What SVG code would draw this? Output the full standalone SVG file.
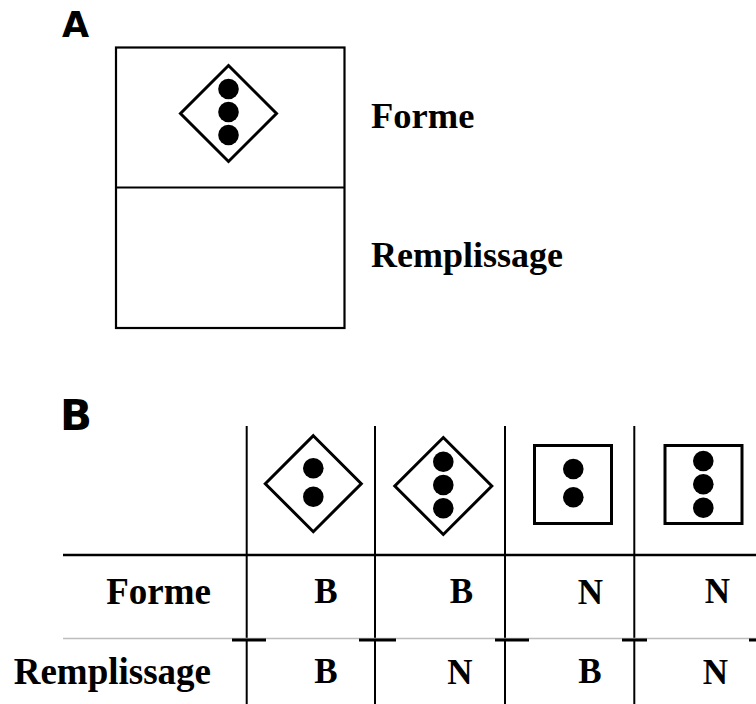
<svg xmlns="http://www.w3.org/2000/svg" width="756" height="704" viewBox="0 0 756 704">
<style>
.lbl{font-family:"Liberation Serif","Times New Roman",serif;font-weight:bold;fill:#000}
.panel{font-family:"DejaVu Sans",sans-serif;font-weight:bold;fill:#000}
.shape{fill:#fff;stroke:#000;stroke-width:3}
.dot{fill:#000}
.line{stroke:#000;stroke-width:2;fill:none}
</style>
<rect width="756" height="704" fill="#fff"/>

<g id="panelA">
  <text class="panel" x="62" y="37" font-size="35">A</text>
  <g id="boxA">
    <rect x="116" y="47.5" width="228.5" height="280.5" fill="#fff" stroke="#000" stroke-width="2.2"/>
    <line x1="116" y1="187.5" x2="344.5" y2="187.5" stroke="#000" stroke-width="2.2"/>
  </g>
  <g id="shapeA">
    <polygon class="shape" points="228.5,65.5 276.5,113.5 228.5,161.5 180.5,113.5"/>
    <circle class="dot" cx="228.5" cy="89" r="10.3"/>
    <circle class="dot" cx="228.5" cy="112" r="10.3"/>
    <circle class="dot" cx="228.5" cy="135" r="10.3"/>
  </g>
  <text class="lbl" x="371" y="128" font-size="36.5">Forme</text>
  <text class="lbl" x="371" y="267" font-size="36">Remplissage</text>
</g>

<g id="panelB">
  <text class="panel" x="60" y="430" font-size="42">B</text>
  <g id="connectors">
    <line class="line" x1="246.7" y1="426" x2="246.7" y2="704"/>
    <line class="line" x1="375" y1="426" x2="375" y2="704"/>
    <line class="line" x1="505" y1="426" x2="505" y2="704"/>
    <line class="line" x1="634.3" y1="426" x2="634.3" y2="704"/>
    <line x1="63" y1="555" x2="756" y2="555" stroke="#000" stroke-width="2.6"/>
    <line x1="63" y1="638.5" x2="756" y2="638.5" stroke="#bdbdbd" stroke-width="1.5"/>
    <g stroke="#000" stroke-width="3">
      <line x1="232" y1="640" x2="266" y2="640"/>
      <line x1="359" y1="640" x2="396" y2="640"/>
      <line x1="495" y1="640" x2="529" y2="640"/>
      <line x1="622" y1="640" x2="647" y2="640"/>
      <line x1="749" y1="640" x2="756" y2="640"/>
    </g>
  </g>
  <g id="col1">
    <polygon class="shape" points="313.3,435.7 361.3,483.7 313.3,531.7 265.3,483.7"/>
    <circle class="dot" cx="313.3" cy="468.3" r="10.3"/>
    <circle class="dot" cx="313.3" cy="496.7" r="10.3"/>
  </g>
  <g id="col2">
    <polygon class="shape" points="443.3,437.5 491.8,486 443.3,534.5 394.8,486"/>
    <circle class="dot" cx="443.3" cy="461.7" r="10.3"/>
    <circle class="dot" cx="443.3" cy="485" r="10.3"/>
    <circle class="dot" cx="443.3" cy="508.3" r="10.3"/>
  </g>
  <g id="col3">
    <rect class="shape" x="534.5" y="445.5" width="77" height="78" stroke-width="3.5"/>
    <circle class="dot" cx="573.3" cy="469" r="10.3"/>
    <circle class="dot" cx="573.3" cy="497.3" r="10.3"/>
  </g>
  <g id="col4">
    <rect class="shape" x="665" y="445.5" width="77" height="78" stroke-width="3.5"/>
    <circle class="dot" cx="703.3" cy="461" r="10.3"/>
    <circle class="dot" cx="703.3" cy="484.3" r="10.3"/>
    <circle class="dot" cx="703.3" cy="507.7" r="10.3"/>
  </g>
  <g id="rowForme">
    <text class="lbl" x="211" y="604" font-size="37" text-anchor="end">Forme</text>
    <text class="lbl" x="326" y="603" font-size="35" text-anchor="middle">B</text>
    <text class="lbl" x="461.5" y="603" font-size="35" text-anchor="middle">B</text>
    <text class="lbl" x="590.5" y="604" font-size="35" text-anchor="middle">N</text>
    <text class="lbl" x="717.5" y="603" font-size="35" text-anchor="middle">N</text>
  </g>
  <g id="rowRemplissage">
    <text class="lbl" x="211" y="684" font-size="37" text-anchor="end">Remplissage</text>
    <text class="lbl" x="326" y="683" font-size="35" text-anchor="middle">B</text>
    <text class="lbl" x="460" y="684" font-size="35" text-anchor="middle">N</text>
    <text class="lbl" x="590" y="683" font-size="35" text-anchor="middle">B</text>
    <text class="lbl" x="715.5" y="684" font-size="35" text-anchor="middle">N</text>
  </g>
</g>
</svg>
